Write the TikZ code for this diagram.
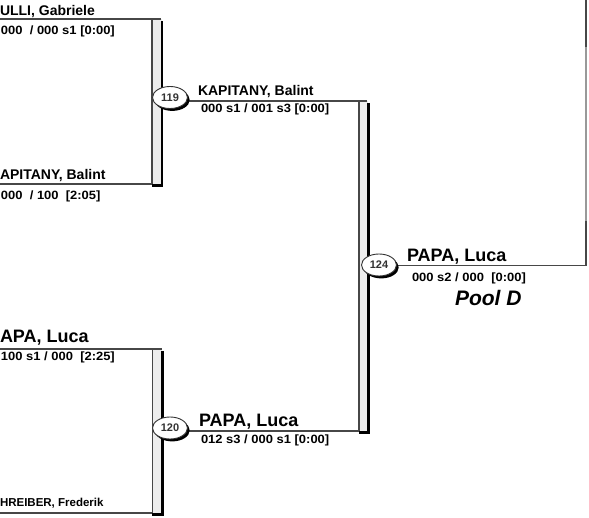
\documentclass[tikz,border=0pt]{standalone}
\usepackage{fontspec}
\setmainfont{Liberation Sans}
\newfontfamily\scorefont[FakeStretch=1.08]{Liberation Sans}
\usetikzlibrary{shapes.geometric,shadows}
\tikzset{
  thinline/.style={draw=black!72, line width=1.3pt},
  thickline/.style={draw=black, line width=2.5pt},
  barfill/.style={fill=black!7, draw=none},
  lbl/.style={anchor=base west, inner sep=0pt, outer sep=0pt},
  namel/.style={lbl, font=\bfseries\fontsize{14}{14}\selectfont},
  bigname/.style={lbl, font=\bfseries\fontsize{18}{18}\selectfont},
  smallname/.style={lbl, font=\bfseries\fontsize{11.5}{11.5}\selectfont},
  scorel/.style={lbl, font=\scorefont\bfseries\fontsize{12}{12}\selectfont},
  pool/.style={lbl, font=\bfseries\itshape\fontsize{21}{21}\selectfont},
  matchnode/.style={ellipse, draw=black!80, line width=0.9pt, fill=white,
    minimum width=35pt, minimum height=22pt, inner sep=0pt,
    font=\bfseries\fontsize{11}{11}\selectfont, text=black!80,
    drop shadow={shadow xshift=2.2pt, shadow yshift=-2.4pt, fill=black, opacity=1}}
}
\begin{document}
\begin{tikzpicture}[x=1pt,y=-1pt]
\useasboundingbox (0,0) rectangle (589,518);
% coordinates
\coordinate (c119) at (170,97.5);
\coordinate (c120) at (170,428);
\coordinate (c124) at (379,265);
% ---- bracket 1 ----
\coordinate (a1) at (0,19);
\coordinate (b1) at (152,19);
\coordinate (e1) at (161,19);
\coordinate (d1) at (152,184);
\coordinate (f1) at (0,184);
\fill[barfill] (b1) rectangle (161.5,184);
\draw[thinline] (a1) -- (e1);
\draw[thinline] (b1) -- (d1) -- (f1);
\draw[thickline] (162,21) -- (162,185.5) -- (151.5,185.5);
% ---- bracket 3 ----
\coordinate (a3) at (0,349);
\coordinate (b3) at (152.5,349);
\coordinate (e3) at (161.5,349);
\coordinate (d3) at (152.5,513);
\coordinate (f3) at (0,513);
\fill[barfill] (b3) rectangle (162,513);
\draw[thinline] (a3) -- (e3);
\draw[thinline] (b3) -- (d3) -- (f3);
\draw[thickline] (162.5,351) -- (162.5,514.7) -- (152,514.7);
% ---- bracket 2 ----
\coordinate (b2) at (359,101);
\coordinate (e2) at (367,101);
\coordinate (d2) at (359,431);
\fill[barfill] (b2) rectangle (368,431);
\draw[thinline] (c119 |- b2) -- (e2);
\draw[thinline] (b2) -- (d2) -- (c120 |- d2);
\draw[thickline] (368.5,103) -- (368.5,432.5) -- (358.5,432.5);
% ---- final line ----
\coordinate (r1) at (586,265.7);
\coordinate (r0) at (586,0);
\coordinate (rm1) at (586,47);
\coordinate (rm2) at (586,221);
\draw[thinline] (c124 |- r1) -- (r1) -- (rm2);
\draw[draw=black!40, line width=1.3pt] (rm2) -- (rm1);
\draw[thinline] (rm1) -- (r0);
% ---- match ellipses ----
\node[matchnode] (m119) at (c119) {119};
\node[matchnode] (m120) at (c120) {120};
\node[matchnode] (m124) at (c124) {124};
% ---- texts ----
\node[namel] (n1) at (0,15.5) {ULLI, Gabriele};
\node[scorel] (s1) at (1,35) {000\ \ / 000 s1 [0:00]};
\node[namel] (n2) at (0,180) {APITANY, Balint};
\node[scorel] (s2) at (1,200) {000\ \ / 100\ \ [2:05]};
\node[namel] (n3) at (198,96) {KAPITANY, Balint};
\node[scorel] (s3) at (201,113) {000 s1 / 001 s3 [0:00]};
\node[bigname] (n4) at (407,262) {PAPA, Luca};
\node[scorel] (s4) at (412,281.5) {000 s2 / 000\ \ [0:00]};
\node[pool] (pd) at (455,306) {Pool D};
\node[bigname] (n5) at (0,342.5) {APA, Luca};
\node[scorel] (s5) at (1,361) {100 s1 / 000\ \ [2:25]};
\node[smallname] (n6) at (0,506.5) {HREIBER, Frederik};
\node[bigname] (n7) at (199,426.5) {PAPA, Luca};
\node[scorel] (s7) at (201,443) {012 s3 / 000 s1 [0:00]};
\end{tikzpicture}
\end{document}
